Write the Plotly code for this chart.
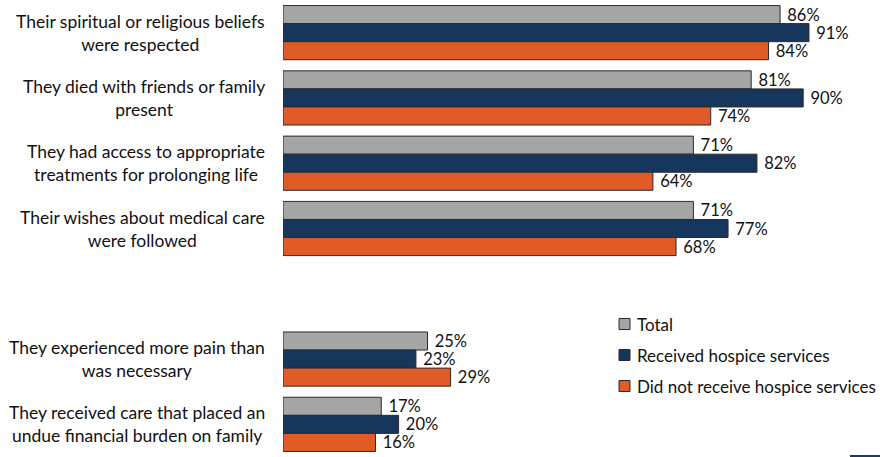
import plotly.graph_objects as go

categories = [
    "Their spiritual or religious beliefs<br>were respected",
    "They died with friends or family<br>present",
    "They had access to appropriate<br>treatments for prolonging life",
    "Their wishes about medical care<br>were followed",
    "They experienced more pain than<br>was necessary",
    "They received care that placed an<br>undue financial burden on family",
]
# slot positions (an empty slot separates the two blocks)
slots = [0, 1, 2, 3, 5, 6]

series_names = ["Total", "Received hospice services", "Did not receive hospice services"]
total = [86, 81, 71, 71, 25, 17]
received = [91, 90, 82, 77, 23, 20]
not_received = [84, 74, 64, 68, 29, 16]

colors = ["#A5A5A5", "#17365D", "#E15B26"]
FONT = "Lato"
TXT = "#111111"

fig = go.Figure()
for name, vals, col in zip(series_names, [total, received, not_received], colors):
    fig.add_trace(go.Bar(
        y=slots, x=vals, name=name, orientation="h",
        marker=dict(color=col, line=dict(color="#2b2b2b", width=1)),
        text=vals, texttemplate=" %{x}%", textposition="outside",
        textfont=dict(family=FONT, size=16.5, color=TXT),
        constraintext="none", cliponaxis=False, showlegend=False,
    ))

annotations = []
for s, c in zip(slots, categories):
    annotations.append(dict(
        x=0, xref="paper", xshift=-16, xanchor="right",
        y=s, yref="y", yanchor="middle",
        text=c, align="center", showarrow=False,
        font=dict(family=FONT, size=17.5, color=TXT),
    ))

# custom legend
shapes = []
leg_y = [324, 355, 386]
H = 457
for name, col, py in zip(series_names, colors, leg_y):
    shapes.append(dict(type="rect", xref="paper", yref="paper",
                       x0=(619 - 283) / 597, x1=(630 - 283) / 597,
                       y0=1 - (py - 5.5) / H, y1=1 - (py + 5.5) / H,
                       fillcolor=col, line=dict(color="#2b2b2b", width=1)))
    annotations.append(dict(x=(635 - 283) / 597, xref="paper", xanchor="left",
                            y=1 - py / H, yref="paper", yanchor="middle",
                            text=name, showarrow=False,
                            font=dict(family=FONT, size=17, color=TXT)))

shapes.append(dict(type="rect", xref="paper", yref="paper",
                   x0=(850 - 283) / 597, x1=1.0, y0=0, y1=2 / H,
                   fillcolor="#1F3864", line=dict(width=0)))

fig.update_layout(
    width=880, height=457,
    margin=dict(l=283, r=0, t=0, b=0),
    barmode="group", bargap=0.17, bargroupgap=0,
    plot_bgcolor="white", paper_bgcolor="white",
    xaxis=dict(range=[0, 597 / 5.78], visible=False, fixedrange=True),
    yaxis=dict(range=[6.5, -0.5], visible=False, fixedrange=True),
    annotations=annotations, shapes=shapes,
    showlegend=False,
)

fig.write_html("out.html", config={"displayModeBar": False},
               post_script="document.body.style.margin='0px';document.body.style.overflow='hidden';")
